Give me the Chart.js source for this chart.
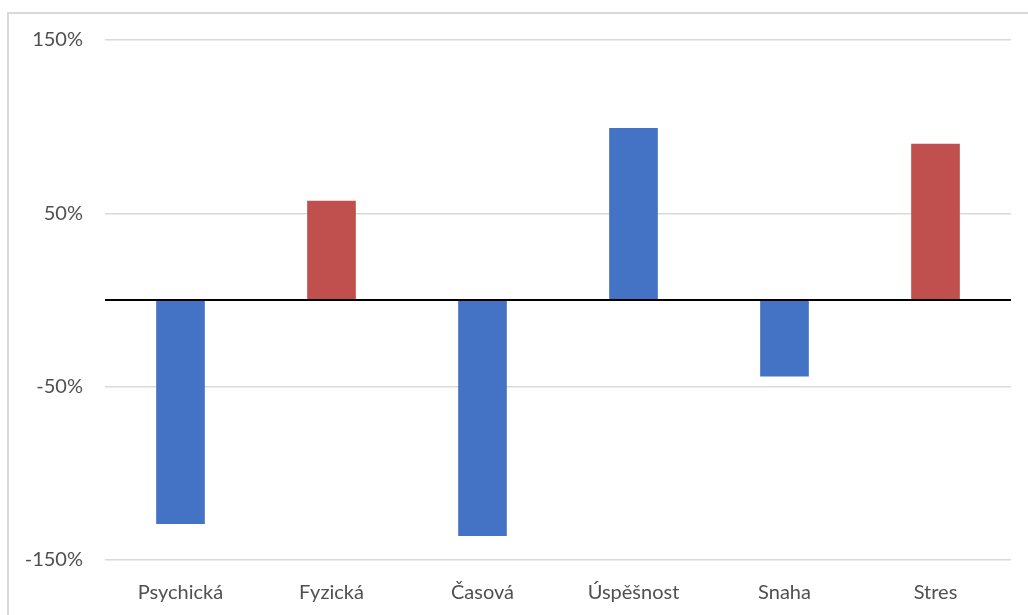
<!DOCTYPE html>
<html>
<head>
<meta charset="utf-8">
<script src="https://cdn.jsdelivr.net/npm/chart.js@4/dist/chart.umd.min.js"></script>
<style>
  html, body { margin: 0; padding: 0; background: #fff; overflow: hidden; }
  #frame {
    position: absolute; left: 7px; top: 12px; width: 1030px; height: 620px;
    border-top: 2px solid #d9d9d9; border-left: 2px solid #d9d9d9;
  }
  #wrap { position: absolute; left: 0; top: 0; width: 1028px; height: 615px; }
</style>
</head>
<body>
<div id="frame"></div>
<div id="wrap"><canvas id="myChart"></canvas></div>
<script>
var categories = ['Psychická', 'Fyzická', 'Časová', 'Úspěšnost', 'Snaha', 'Stres'];
var values = [-129, 57, -136, 99, -44, 90];
var barColors = ['#4472c4', '#c0504d', '#4472c4', '#4472c4', '#4472c4', '#c0504d'];
var yTicks = [-150, -50, 50, 150];

// black line across the plot at 0%
var zeroLine = {
  id: 'zeroLine',
  afterDatasetsDraw: function(chart){
    var y = chart.scales.y.getPixelForValue(0);
    var c = chart.ctx;
    c.save();
    c.strokeStyle = '#000';
    c.lineWidth = 2;
    c.beginPath();
    c.moveTo(chart.chartArea.left, y);
    c.lineTo(chart.chartArea.right, y);
    c.stroke();
    c.restore();
  }
};

var ctx = document.getElementById('myChart').getContext('2d');
var myChart = new Chart(ctx, {
  type: 'bar',
  data: {
    labels: categories,
    datasets: [{
      data: values,
      backgroundColor: barColors,
      borderWidth: 0,
      barThickness: 48
    }]
  },
  options: {
    responsive: true,
    maintainAspectRatio: false,
    animation: false,
    layout: { padding: { left: 0, top: 40, right: 17, bottom: 0 } },
    plugins: { legend: { display: false }, tooltip: { enabled: false } },
    scales: {
      x: {
        grid: { display: false },
        border: { display: false },
        ticks: { color: '#505050', font: { family: 'Lato', size: 20 }, padding: 13, maxRotation: 0 },
        afterFit: function(s){ s.height = 55; }
      },
      y: {
        min: -150,
        max: 150,
        afterBuildTicks: function(s){ s.ticks = yTicks.map(function(v){ return { value: v }; }); },
        grid: { color: '#d9d9d9', lineWidth: 1.5, drawTicks: false },
        border: { display: false },
        ticks: {
          color: '#505050',
          font: { family: 'Lato', size: 20 },
          padding: 22,
          callback: function(v){ return v + '%'; }
        },
        afterFit: function(s){ s.width = 105; }
      }
    }
  },
  plugins: [zeroLine]
});
</script>
</body>
</html>
